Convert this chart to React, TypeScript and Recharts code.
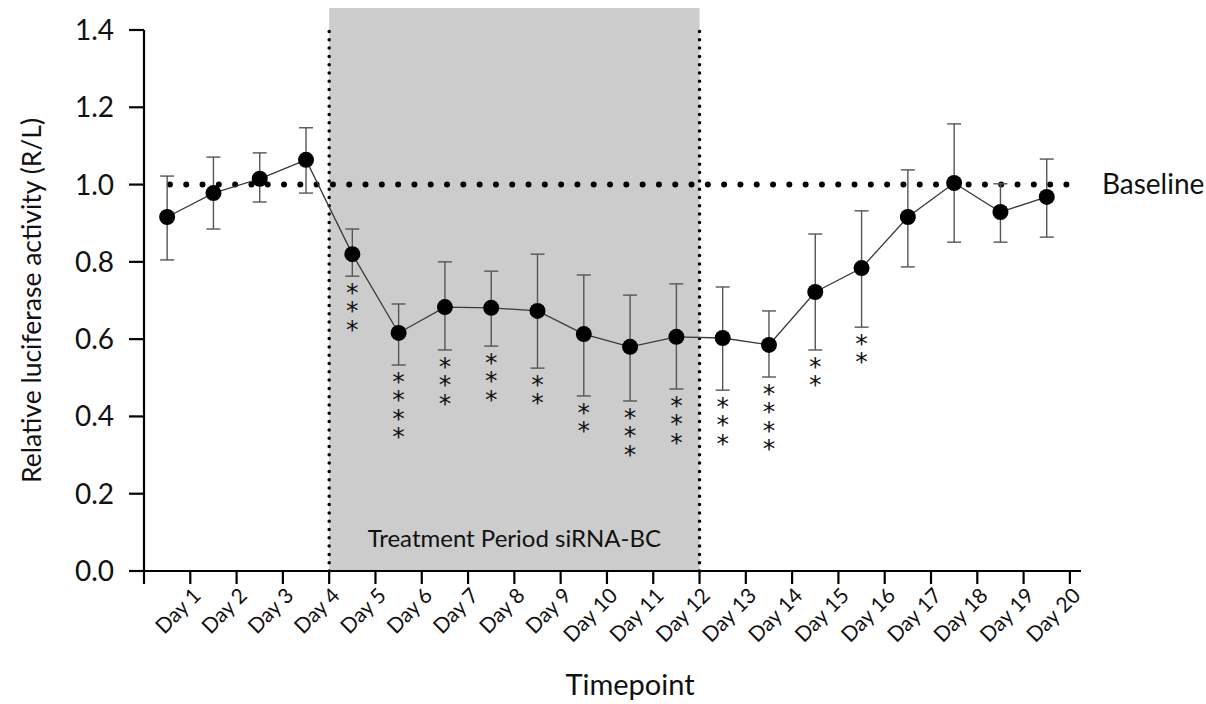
import React from 'react';
import {
  ComposedChart,
  Line,
  XAxis,
  YAxis,
  ErrorBar,
  ReferenceArea,
  ReferenceLine,
  LabelList,
} from 'recharts';

const dayNumbers = [1, 2, 3, 4, 5, 6, 7, 8, 9, 10, 11, 12, 13, 14, 15, 16, 17, 18, 19, 20];
const tickLabels = dayNumbers.map((d) => `Day ${d}`);
const meanValues = [0.916, 0.978, 1.015, 1.064, 0.82, 0.616, 0.683, 0.681, 0.673, 0.613, 0.58, 0.606, 0.603, 0.585, 0.722, 0.784, 0.916, 1.004, 0.929, 0.968];
const upperValues = [1.022, 1.071, 1.082, 1.147, 0.885, 0.691, 0.8, 0.776, 0.82, 0.766, 0.714, 0.743, 0.735, 0.673, 0.872, 0.932, 1.038, 1.157, 1.002, 1.066];
const lowerValues = [0.805, 0.885, 0.955, 0.978, 0.763, 0.533, 0.572, 0.582, 0.525, 0.453, 0.44, 0.471, 0.468, 0.502, 0.572, 0.631, 0.787, 0.851, 0.851, 0.864];
const starCounts = [0, 0, 0, 0, 3, 4, 3, 3, 2, 2, 3, 3, 3, 4, 2, 2, 0, 0, 0, 0];
const yTicks = [0, 0.2, 0.4, 0.6, 0.8, 1.0, 1.2, 1.4];
const xTicks = [0.5, ...dayNumbers.map((d) => d + 0.5)];
const baselineValue = 1.0;
const treatmentStartDay = 4;
const treatmentEndDay = 12;

const data = dayNumbers.map((d, i) => ({
  day: d,
  mean: meanValues[i],
  lower: lowerValues[i],
  err: [meanValues[i] - lowerValues[i], upperValues[i] - meanValues[i]],
  stars: starCounts[i],
}));

const FONT = 'Lato, "Open Sans", sans-serif';

const XTick = (props: any) => {
  const { x, y, payload } = props;
  const idx = Math.round(payload.value - 0.5) - 1;
  if (idx < 0) return null;
  const label = tickLabels[idx];
  const ax = x;
  const ay = y - 1;
  return (
    <text
      x={ax}
      y={ay}
      transform={`rotate(-45, ${ax}, ${ay})`}
      textAnchor="end"
      dominantBaseline="hanging"
      fontSize={21}
      fontFamily={FONT}
      fill="#111"
    >
      {label}
    </text>
  );
};

const renderStars = (props: any) => {
  const { x, y, value } = props;
  const n = Number(value) || 0;
  if (!n) return null;
  const fs = 25;
  return (
    <text
      x={x}
      y={y + 2}
      textAnchor="start"
      fontSize={fs}
      fontFamily='"DejaVu Sans", sans-serif'
      fill="#111"
      letterSpacing={14.3 - fs}
      style={{ writingMode: 'vertical-rl', textOrientation: 'upright' } as any}
    >
      {'*'.repeat(n)}
    </text>
  );
};

export default function App() {
  return (
    <div style={{ position: 'fixed', left: 0, top: 0, width: 1206, height: 704, background: '#fff' }}>
      <ComposedChart
        width={1206}
        height={704}
        data={data}
        margin={{ top: 30, right: 125, bottom: 53, left: 64 }}
        style={{ fontFamily: FONT }}
      >
        <ReferenceArea
          x1={treatmentStartDay + 0.5}
          x2={treatmentEndDay + 0.5}
          y1={0}
          y2={1.457}
          fill="#cccccc"
          fillOpacity={1}
          stroke="none"
          ifOverflow="visible"
          label={(p: any) => {
            const vb = p.viewBox;
            return (
              <text
                x={vb.x + vb.width / 2}
                y={vb.y + vb.height - 24}
                textAnchor="middle"
                fontSize={24}
                fontFamily={FONT}
                fill="#111"
              >
                Treatment Period siRNA-BC
              </text>
            );
          }}
        />
        <ReferenceLine
          segment={[{ x: treatmentStartDay + 0.5, y: 0 }, { x: treatmentStartDay + 0.5, y: 1.413 }]}
          stroke="#000"
          strokeWidth={3.5}
          strokeDasharray="0 8.3"
          strokeLinecap="round"
          ifOverflow="visible"
        />
        <ReferenceLine
          segment={[{ x: treatmentEndDay + 0.5, y: 0 }, { x: treatmentEndDay + 0.5, y: 1.413 }]}
          stroke="#000"
          strokeWidth={3.5}
          strokeDasharray="0 8.3"
          strokeLinecap="round"
          ifOverflow="visible"
        />
        <ReferenceLine
          segment={[{ x: 1.06, y: baselineValue }, { x: 20.76, y: baselineValue }]}
          stroke="#000"
          strokeWidth={6}
          strokeDasharray="0 16.3"
          strokeLinecap="round"
          ifOverflow="visible"
          label={(p: any) => {
            const vb = p.viewBox;
            return (
              <text
                x={vb.x + vb.width + 20}
                y={vb.y + 9}
                textAnchor="start"
                fontSize={28}
                fontFamily={FONT}
                fill="#111"
              >
                Baseline
              </text>
            );
          }}
        />
        <XAxis
          dataKey="day"
          type="number"
          domain={[0.5, 20.74]}
          ticks={xTicks}
          interval={0}
          allowDataOverflow
          axisLine={{ stroke: '#000', strokeWidth: 2.2 }}
          tickLine={{ stroke: '#000', strokeWidth: 2.2 }}
          tickSize={13}
          tickMargin={2}
          height={80}
          tick={<XTick />}
          label={(p: any) => {
            const vb = p.viewBox;
            return (
              <text
                x={630}
                y={vb.y + 124}
                textAnchor="middle"
                fontSize={29}
                fontFamily={FONT}
                fill="#111"
              >
                Timepoint
              </text>
            );
          }}
        />
        <YAxis
          type="number"
          domain={[0, 1.4]}
          ticks={yTicks}
          interval={0}
          width={80}
          axisLine={{ stroke: '#000', strokeWidth: 2.2 }}
          tickLine={{ stroke: '#000', strokeWidth: 2.2 }}
          tickSize={15}
          tickMargin={15}
          tickFormatter={(v: number) => v.toFixed(1)}
          tick={{ fontSize: 28, fill: '#111', fontFamily: FONT }}
          label={(p: any) => {
            const vb = p.viewBox;
            const cx = 31;
            const cy = vb.y + vb.height / 2;
            return (
              <text
                x={cx}
                y={cy}
                transform={`rotate(-90, ${cx}, ${cy})`}
                textAnchor="middle"
                dominantBaseline="central"
                fontSize={26.5}
                fontFamily={FONT}
                fill="#111"
              >
                Relative luciferase activity (R/L)
              </text>
            );
          }}
        />
        <Line
          dataKey="lower"
          stroke="none"
          dot={false}
          activeDot={false}
          isAnimationActive={false}
          legendType="none"
        >
          <LabelList dataKey="stars" content={renderStars} />
        </Line>
        <Line
          dataKey="mean"
          stroke="#3a3a3a"
          strokeWidth={1.3}
          dot={{ r: 8, fill: '#000', stroke: 'none' }}
          activeDot={false}
          isAnimationActive={false}
        >
          <ErrorBar dataKey="err" width={7} stroke="#555" strokeWidth={1.4} direction="y" />
        </Line>
      </ComposedChart>
    </div>
  );
}
